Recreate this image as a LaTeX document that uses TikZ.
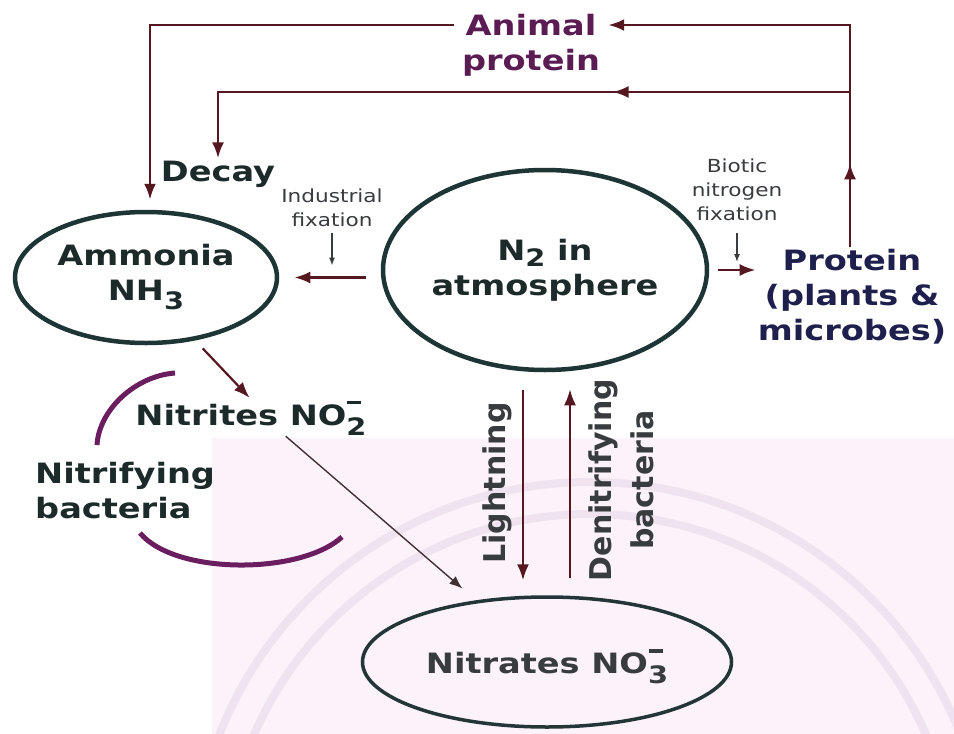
\documentclass[tikz,border=0pt]{standalone}
\usepackage{fontspec}
\setmainfont{DejaVu Sans}[FakeStretch=1.2]
\newfontfamily\uprightsans{DejaVu Sans}
\usepackage{tikz}
\usetikzlibrary{arrows.meta,positioning,shapes.geometric,decorations.markings}
\definecolor{rim}{HTML}{1E3535}
\definecolor{ink}{HTML}{1C2A2A}
\definecolor{inkgray}{HTML}{383C3E}
\definecolor{maroon}{HTML}{561820}
\definecolor{plum}{HTML}{5A1C52}
\definecolor{navy}{HTML}{1F1F4E}
\definecolor{arcpurple}{HTML}{6B1E5F}
\definecolor{pinkbg}{HTML}{FCF2FA}
\definecolor{sealgray}{HTML}{EFE3EF}
\newcommand\chemsub[2]{\raisebox{#1}{\fontsize{24}{24}\selectfont #2}}
\newcommand\ionsub[1]{\raisebox{-10pt}{\fontsize{24}{24}\selectfont\rlap{\hspace{1pt}\raisebox{31pt}{\rule{14pt}{3.5pt}}}#1}}
\tikzset{
  pool/.style={
    ellipse, draw=rim, line width=4.5pt, inner sep=0pt,
    align=center, text=ink, font=\fontsize{28}{35}\selectfont\bfseries,
    execute at begin node={\rule{0pt}{34pt}}
  },
  cyclelabel/.style={
    font=\fontsize{28}{35}\selectfont\bfseries, align=center, inner sep=2pt
  },
  smallnote/.style={
    font=\fontsize{18}{24}\selectfont, text=inkgray, align=center, inner sep=2pt
  },
  sidelabel/.style={
    font=\uprightsans\fontsize{30}{42}\selectfont\bfseries, text=inkgray,
    align=center, rotate=90
  },
  flow/.style={color=maroon, line width=2.8pt, -{Latex[length=16pt,width=12pt]}},
  thinflow/.style={color=inkgray!70!maroon, line width=1.4pt, -{Latex[length=13pt,width=10pt]}},
  tick/.style={color=inkgray, line width=1.2pt, -{Latex[length=8pt,width=6pt]}},
  midarrow/.style={postaction={decorate},
    decoration={markings, mark=at position #1 with {\arrow{Latex[length=16pt,width=12pt]}}}},
  loopline/.style={draw=arcpurple, line width=5pt},
  sealring/.style={draw=sealgray, line width=8pt}
}

\begin{document}
\begin{tikzpicture}[x=1pt,y=-1pt,>=Latex]
  \useasboundingbox (0,0) rectangle (954,734);
  \fill[white] (0,0) rectangle (954,734);
  \begin{scope}
    \clip (212,438) rectangle (954,734);
    \fill[pinkbg] (212,438) rectangle (954,734);
    \draw[sealring] (590,880) circle[radius=398pt];
    \draw[sealring] (590,880) circle[radius=366pt];
  \end{scope}

  \node[pool, minimum width=324pt, minimum height=200pt] (n2) at (545,270) {N\chemsub{-6pt}{2} in\\atmosphere};
  \node[pool, minimum width=262pt, minimum height=131pt] (ammonia) at (146,277.5) {Ammonia\\NH\chemsub{-9pt}{3}};
  \node[pool, draw=rim!80!inkgray, line width=3.5pt, text=inkgray, minimum width=369pt, minimum height=130pt] (nitrates) at (547,662) {Nitrates NO\ionsub{3}};

  \node[cyclelabel, text=plum, inner sep=8pt] (animal) at (531,45) {Animal\\protein};
  \node[cyclelabel, text=ink, anchor=base] (decay) at (218,181) {Decay};
  \node[cyclelabel, text=navy] (protein) at (852,296.5) {Protein\\(plants \&\\microbes)};
  \node[cyclelabel, text=ink, anchor=base, inner sep=1pt] (nitrites) at (251,425) {Nitrites NO\ionsub{2}};
  \node[cyclelabel, text=ink, align=left, anchor=west] (nitrifying) at (33,491) {Nitrifying\\bacteria};
  \node[smallnote] (indfix) at (332,208) {Industrial\\fixation};
  \node[smallnote] (biofix) at (737,190) {Biotic\\nitrogen\\fixation};
  \node[sidelabel] (lightning) at (497,483) {Lightning};
  \node[sidelabel] (denitrify) at (621,480) {Denitrifying\\bacteria};

  \coordinate (cTR) at (850,25);
  \coordinate (cTL) at (150,25);
  \coordinate (cMR) at (850,92);
  \coordinate (cML) at (218,92);

  \draw[flow, midarrow=0.18] (protein.north -| cTR) -- (cTR) -- (cTR -| animal.east);
  \draw[flow, shorten >=10pt] (cTL -| animal.west) -- (cTL) -- (cTL |- ammonia.north);
  \draw[flow, midarrow=0.34] (cMR) -- (cML) -- (decay.north);

  \draw[flow, shorten <=15pt, shorten >=15pt] (n2.west |- ammonia.east) -- (ammonia.east);
  \draw[tick, shorten <=4pt, shorten >=12pt] (indfix.south) -- (indfix.south |- ammonia.east);
  \draw[flow, shorten <=9pt] (n2.east) -- (n2.east -| protein.west);
  \draw[tick, shorten <=10pt, shorten >=8pt] (biofix.south) -- (biofix.south |- n2.east);

  \draw[flow, line width=2.2pt, shorten <=11pt, shorten >=2pt] (ammonia.-52) -- (nitrites.north);
  \draw[thinflow, shorten >=18pt] (nitrites.-28) -- (nitrates.139);
  \draw[flow, line width=2.2pt, shorten <=18pt, shorten >=15pt] ([xshift=-22pt]n2.south) -- ([xshift=-22pt]n2.south |- nitrates.north);
  \draw[flow, line width=2.2pt, shorten <=17pt, shorten >=17pt] ([xshift=25pt]n2.south |- nitrates.north) -- ([xshift=25pt]n2.south);

  \draw[loopline] (175,373) .. controls (135,376) and (99,410) .. (97,445);
  \draw[loopline] (140,533) .. controls (175,575) and (300,575) .. (342,537);
\end{tikzpicture}
\end{document}
